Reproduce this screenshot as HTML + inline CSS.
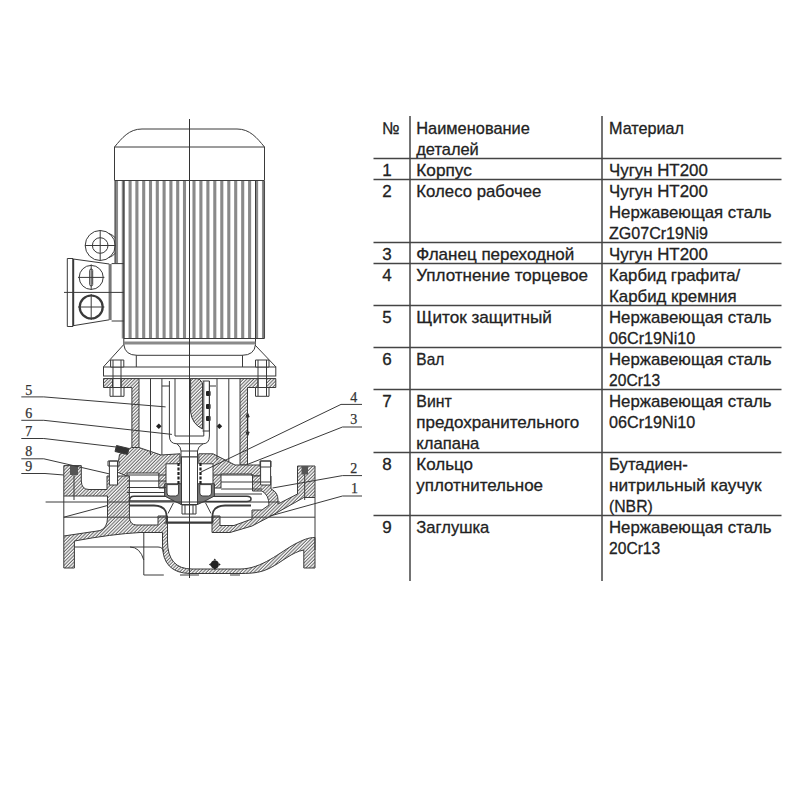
<!DOCTYPE html>
<html><head><meta charset="utf-8"><style>
html,body{margin:0;padding:0;background:#fff;width:800px;height:800px;overflow:hidden}
svg{display:block}
</style></head><body>
<svg width="800" height="800" viewBox="0 0 800 800">
<defs>
<pattern id="h" width="2.4" height="2.4" patternUnits="userSpaceOnUse" patternTransform="rotate(45)">
<rect width="2.4" height="2.4" fill="#fff"/>
<line x1="1" y1="0" x2="1" y2="2.4" stroke="#4a4a4a" stroke-width="0.9"/>
</pattern>
</defs>
<rect width="800" height="800" fill="#fff"/>
<g id="motor" fill="none" stroke="#3a3a3a" stroke-width="1">
<!-- fins -->
<g stroke="#8a8a8a" stroke-width="3.1">
<path d="M116.5,181V263 M123.3,181V338.5 M130.1,181V338.5 M136.9,181V338.5 M143.7,181V338.5 M150.5,181V338.5 M157.3,181V338.5 M164.1,181V338.5 M170.9,181V338.5 M177.7,181V338.5 M184.5,181V338.5 M194.0,181V338.5 M200.9,181V338.5 M207.9,181V338.5 M214.8,181V338.5 M221.8,181V338.5 M228.8,181V338.5 M235.7,181V338.5 M242.7,181V338.5 M249.6,181V338.5 M256.6,181V338.5 M263.5,181V338.5"/>
</g>
<path d="M123.8,181V344.5 M255.5,181V344.5 M264.3,181V338.5 M115,181V263 M123.8,338.5H264.3"/>
<!-- cap -->
<path d="M114.5,180.5V147C122,138 129,129 142,129H237C250,129 257,138 264.5,147V180.5Z" fill="#fff"/>
<line x1="114.5" y1="147" x2="264.5" y2="147"/>
<!-- band -->
<rect x="123.8" y="341.5" width="131.7" height="3" fill="#8a8a8a" stroke="none"/>
<path d="M123.8,344.5Q125,355.3 137,355.3H242Q254.5,355.3 255.5,344.5"/>
<path d="M136.3,355.3V367M242.5,355.3V367"/>
<path d="M123.8,344.5L103.5,366.8M255,345L275.8,366.8"/>
<rect x="103.5" y="367" width="172.3" height="9"/>
<line x1="103.5" y1="378.6" x2="275.8" y2="378.6"/>
</g>
<g id="tbox" fill="none" stroke="#3a3a3a" stroke-width="1">
<circle cx="100.2" cy="245.5" r="15"/>
<path d="M109,233.5Q113,235 115.5,238M109,257.5Q113,256 115.5,253"/>
<circle cx="100.2" cy="245.5" r="7.8"/>
<path d="M85,245.5H115.5M100.2,230V261"/>
<path d="M73.2,259V326" stroke-width="2"/>
<path d="M67.3,258.5V326.5M73.2,259L109.3,264M73.2,325.7L109.3,319.8M67.3,258.5H73.2M67.3,326.5H73.2"/>
<rect x="108.6" y="264" width="3" height="56" fill="#777" stroke="none"/>
<path d="M111.6,263.6H123.8M111.6,321H123.8"/>
<path d="M64,292.4H123.8"/>
<circle cx="91.2" cy="277.4" r="12"/>
<rect x="89.7" y="269" width="3" height="17" rx="1.5"/>
<path d="M78,277.4H104.4M91.2,264.5V290"/>
<circle cx="91.2" cy="307" r="11.5" stroke-width="2.2"/>
<path d="M78,307H104.4M91.2,294V320"/>
</g>
<g id="pump" stroke="#3a3a3a" stroke-width="1" fill="url(#h)">
<!-- lantern flange + walls -->
<path d="M103.5,378.6H139V447.5H131.9V387.5H103.5Z"/>
<path d="M240,378.6H275.8V387.5H247.5V465H240Z"/>
<!-- seal cover left -->
<path d="M119.5,454.4L129.4,448.5L131.9,447.5H139L161,455L180,453.8V463.8H166V488H158.8V473H127V476L116.9,472Z"/>
<!-- seal cover right -->
<path d="M198.8,453.8H213L235,465H261V476H252V474H221V488H213V463.8H198.8Z"/>
<!-- casing left -->
<path d="M63.8,465.6H81.3V481Q81.5,489.5 89,489.5H107V476H129.4V517.5Q130,524.5 136,525H158V516H167.5V541Q167.5,569 192,569H240C262,569 280,552 295,544C303,540 308,537.5 315,537.5V568H303.8V550C292,552 282,562 270,568C262,572 255,573.5 240,573.5H190Q162.5,573 162.5,545V532.5H140Q112,534 74.4,541V568H63.8V536L100,530.6Q107.5,528 107.5,517.5V496H63.8Z"/>
<!-- casing right ring + volute wall + diagonal to flange -->
<path d="M252.5,476H271V489Q278,492 278,500V504L297.5,494V466H315V497.5L303.8,497.5L271,516L252,526L230,532.5H212V516H220V525.5H234L252,519V510H262L269,505Q269,495 262,491H252.5Z"/>
</g>
<g stroke="#3a3a3a" stroke-width="1" fill="none">
<!-- bolts on motor flange -->
<path d="M110.6,360H123.8V367H110.6Z M112.5,378.6H121V387.5H112.5Z M110,387.5H124V396.3H110Z" fill="#fff"/>
<path d="M113,360V396 M121,360V396"/>
<path d="M255.5,360H269V367H255.5Z M258,378.6H266.5V387.5H258Z M255.5,387.5H269V396.3H255.5Z" fill="#fff"/>
<path d="M258,360V396 M266.5,360V396"/>
<!-- coupling -->
<path d="M169.4,381V436Q169.4,443.8 177,443.8H203Q209.4,443.8 209.4,436V381"/>
<path d="M175,378.6V436H203.8V381"/>
<path d="M177,443.8Q181,447 181,451M197.5,451Q197.5,447 203,443.8M181,451H197.5"/>
<path d="M190.6,378.6V412Q192,424 202.5,429V383Q200,378.6 197,378.6Z" fill="url(#h)"/>
<path d="M181,451V505M197.5,451V505M181,457H197.5M181,484H197.5"/>
<path d="M182,505H196V514H182Z M185,505V514M189.5,505V514M193,505V514"/>
<g fill="#222" stroke="none">
<rect x="206" y="391" width="4.6" height="5" rx="1"/><rect x="206" y="404" width="4.6" height="5" rx="1"/><rect x="206" y="416" width="4.6" height="5" rx="1"/>
<path d="M158.8,423.5L161.6,426.3L158.8,429.1L156,426.3Z"/><path d="M219.4,423.5L222.2,426.3L219.4,429.1L216.6,426.3Z"/>
<circle cx="214.8" cy="564.4" r="4"/><path d="M214.8,558.5L216.3,560.5H213.3Z M214.8,570L216.3,568H213.3Z M208.9,564.4L210.9,562.9V565.9Z M220.7,564.4L218.7,562.9V565.9Z"/>
</g>
<path d="M202.5,381H209.4V431H202.5"/>
<path d="M150.5,378.6V455M161.9,378.6V455M217,378.6V460M228.8,378.6V462"/>
<path d="M161.9,386H169.4M209.4,386H216"/>
<path d="M247.6,414V435" stroke="#222" stroke-width="1.3"/><path d="M246,417L247.6,413L249.2,417ZM246,432L247.6,436L249.2,432Z" fill="#222"/>
<!-- screw 7 -->
<path d="M116.5,445.5L129,448.5L127.5,454.5L115,451.5Z" fill="#333"/>
<!-- left bolt -->
<path d="M109.4,461H117.5V485H109.4Z M108,461H119V466H108Z" fill="#fff"/>
<!-- right bolt -->
<path d="M260.6,461H270.6V485H260.6Z M260,461H271V467H260Z" fill="#fff"/>
<path d="M74,466V500" />
<rect x="70" y="466" width="8" height="9" fill="#555" stroke="none"/>
<path d="M304.7,466V500"/>
<rect x="301.5" y="466" width="6.5" height="8.5" fill="#555" stroke="none"/>
<!-- impeller -->
<path d="M129.4,501Q129.4,496.3 134,496.3H176V501H134Z" fill="#fff" stroke-width="1.6"/>
<path d="M203,496.3H247Q251,496.3 251,499Q251,501.5 247,501.5H203Z" fill="#fff" stroke-width="1.6"/>
<path d="M164.6,483.8H214.4V496L204,501.5L197.5,504.5H181.5L175,501.5L164.6,496Z" fill="#777"/>
<path d="M167,484.6H178.6V493Q178.6,496 175.6,496H170Q167,496 167,493Z M199.8,484.6H211.4V493Q211.4,496 208.4,496H202.8Q199.8,496 199.8,493Z" fill="#fff"/>
<rect x="181.5" y="457" width="16" height="47.5" fill="#fff"/>
<path d="M173.4,503L168,513.5M205.6,503L211,513.5"/>
<path d="M129.4,505.5H154Q166,506 166.5,515V522.5H212.5V515Q213,506 225,505.5H251" stroke-width="1.8"/>
<path d="M127,475H166M127,481H166M127,487.5H166M127,492.5H164.6"/>
<path d="M213,475H253M221,482H271M221,489H262M214.4,494H262"/>
<!-- inlet lines -->
<path d="M63.8,496V536M45.6,502H280M63.8,517.2L107.5,505.5M63.8,517.2H315"/>
<path d="M315,497.5V550M164,523H212M74.4,547H158Q163,547 163.8,552"/>
<path d="M143.8,532.5V575H163.8M180,575H199M230,575H240M143.8,560Q140,547 130,547"/>
<!-- shaft seal dark bits -->
<path d="M178.5,463V485M200.5,463V485" stroke="#222" stroke-width="2.2" stroke-dasharray="3,1.5"/>
</g>
<g font-family="Liberation Serif" font-size="14" fill="#333" stroke="#333" stroke-width="0.25">
<text x="25.3" y="395">5</text>
<text x="25.3" y="417.5">6</text>
<text x="25.3" y="435.6">7</text>
<text x="25.3" y="456.2">8</text>
<text x="25.3" y="471">9</text>
<text x="350.3" y="402">4</text>
<text x="350.3" y="424.4">3</text>
<text x="350.3" y="473">2</text>
<text x="351" y="493">1</text>
</g>
<g stroke="#3a3a3a" stroke-width="1" fill="none">
<path d="M21.3,396.9H43.8L165.6,406.9"/>
<path d="M21.3,420.3H43.8L171.9,434.4"/>
<path d="M21.3,438.5H43.8L116,447"/>
<path d="M21.3,458.8H43.8L109,473.8"/>
<path d="M21.3,473.5H45L63.8,475"/>
<path d="M362,404.4H341L201,472"/>
<path d="M362,427H342.5L247.5,464.4"/>
<path d="M362,475.6H342.5L272.5,488"/>
<path d="M362,496H342.5L270,516"/>
</g>
<line x1="189.5" y1="119" x2="189.5" y2="578" stroke="#333" stroke-width="1"/>
<g font-family="Liberation Sans" font-size="17" fill="#222" stroke="#222" stroke-width="0.3">
<text x="382" y="134.0" textLength="17.5" lengthAdjust="spacingAndGlyphs">№</text>
<text x="416.3" y="134.0" textLength="113.5" lengthAdjust="spacingAndGlyphs">Наименование</text>
<text x="416.3" y="155.0" textLength="62.5" lengthAdjust="spacingAndGlyphs">деталей</text>
<text x="609" y="134.0" textLength="75" lengthAdjust="spacingAndGlyphs">Материал</text>
<text x="382.2" y="176.0">1</text>
<text x="416.3" y="176.0" textLength="55.5" lengthAdjust="spacingAndGlyphs">Корпус</text>
<text x="609" y="176.0" textLength="98.75" lengthAdjust="spacingAndGlyphs">Чугун НТ200</text>
<text x="382.2" y="197.0">2</text>
<text x="416.3" y="197.0" textLength="125" lengthAdjust="spacingAndGlyphs">Колесо рабочее</text>
<text x="609" y="197.0" textLength="98.75" lengthAdjust="spacingAndGlyphs">Чугун НТ200</text>
<text x="609" y="218.0" textLength="162.5" lengthAdjust="spacingAndGlyphs">Нержавеющая сталь</text>
<text x="609" y="239.0" textLength="99" lengthAdjust="spacingAndGlyphs">ZG07Cr19Ni9</text>
<text x="382.2" y="260.0">3</text>
<text x="416.3" y="260.0" textLength="158" lengthAdjust="spacingAndGlyphs">Фланец переходной</text>
<text x="609" y="260.0" textLength="98.75" lengthAdjust="spacingAndGlyphs">Чугун НТ200</text>
<text x="382.2" y="281.0">4</text>
<text x="416.3" y="281.0" textLength="171.75" lengthAdjust="spacingAndGlyphs">Уплотнение торцевое</text>
<text x="609" y="281.0" textLength="131.25" lengthAdjust="spacingAndGlyphs">Карбид графита/</text>
<text x="609" y="302.0" textLength="127.5" lengthAdjust="spacingAndGlyphs">Карбид кремния</text>
<text x="382.2" y="323.0">5</text>
<text x="416.3" y="323.0" textLength="135.5" lengthAdjust="spacingAndGlyphs">Щиток защитный</text>
<text x="609" y="323.0" textLength="162.5" lengthAdjust="spacingAndGlyphs">Нержавеющая сталь</text>
<text x="609" y="344.0" textLength="86.25" lengthAdjust="spacingAndGlyphs">06Cr19Ni10</text>
<text x="382.2" y="365.0">6</text>
<text x="416.3" y="365.0" textLength="28" lengthAdjust="spacingAndGlyphs">Вал</text>
<text x="609" y="365.0" textLength="162.5" lengthAdjust="spacingAndGlyphs">Нержавеющая сталь</text>
<text x="609" y="386.0" textLength="51.25" lengthAdjust="spacingAndGlyphs">20Cr13</text>
<text x="382.2" y="407.0">7</text>
<text x="416.3" y="407.0" textLength="35.5" lengthAdjust="spacingAndGlyphs">Винт</text>
<text x="416.3" y="428.0" textLength="163" lengthAdjust="spacingAndGlyphs">предохранительного</text>
<text x="416.3" y="449.0" textLength="63" lengthAdjust="spacingAndGlyphs">клапана</text>
<text x="609" y="407.0" textLength="162.5" lengthAdjust="spacingAndGlyphs">Нержавеющая сталь</text>
<text x="609" y="428.0" textLength="86.25" lengthAdjust="spacingAndGlyphs">06Cr19Ni10</text>
<text x="382.2" y="470.0">8</text>
<text x="416.3" y="470.0" textLength="56.75" lengthAdjust="spacingAndGlyphs">Кольцо</text>
<text x="416.3" y="491.0" textLength="126.75" lengthAdjust="spacingAndGlyphs">уплотнительное</text>
<text x="609" y="470.0" textLength="78.75" lengthAdjust="spacingAndGlyphs">Бутадиен-</text>
<text x="609" y="491.0" textLength="152.5" lengthAdjust="spacingAndGlyphs">нитрильный каучук</text>
<text x="609" y="512.0" textLength="43.75" lengthAdjust="spacingAndGlyphs">(NBR)</text>
<text x="382.2" y="533.0">9</text>
<text x="416.3" y="533.0" textLength="73" lengthAdjust="spacingAndGlyphs">Заглушка</text>
<text x="609" y="533.0" textLength="162.5" lengthAdjust="spacingAndGlyphs">Нержавеющая сталь</text>
<text x="609" y="554.0" textLength="51.25" lengthAdjust="spacingAndGlyphs">20Cr13</text>
</g>
<g stroke="#444" stroke-width="1.5">
<line x1="373.5" y1="158.5" x2="781.5" y2="158.5"/>
<line x1="373.5" y1="179.5" x2="781.5" y2="179.5"/>
<line x1="373.5" y1="242.5" x2="781.5" y2="242.5"/>
<line x1="373.5" y1="263.5" x2="781.5" y2="263.5"/>
<line x1="373.5" y1="305.5" x2="781.5" y2="305.5"/>
<line x1="373.5" y1="347.5" x2="781.5" y2="347.5"/>
<line x1="373.5" y1="389.5" x2="781.5" y2="389.5"/>
<line x1="373.5" y1="452.5" x2="781.5" y2="452.5"/>
<line x1="373.5" y1="515.5" x2="781.5" y2="515.5"/>
<line x1="410" y1="116" x2="410" y2="581"/>
<line x1="602" y1="116" x2="602" y2="581"/>
</g>

</svg>
</body></html>
